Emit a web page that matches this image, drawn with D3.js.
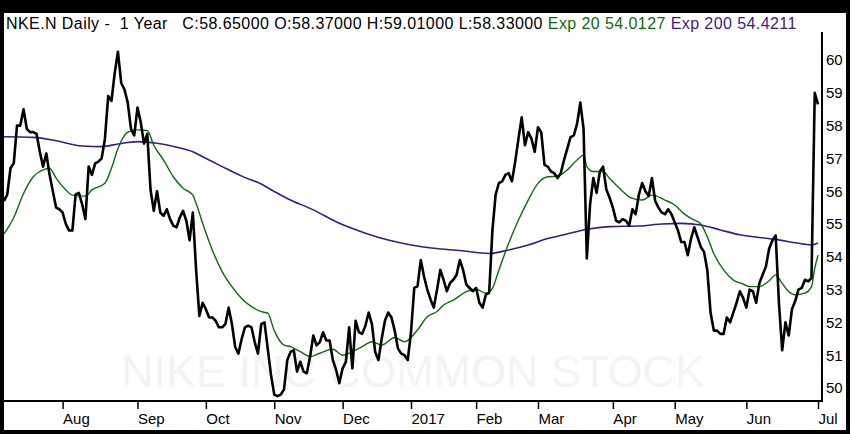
<!DOCTYPE html>
<html>
<head>
<meta charset="utf-8">
<script src="https://cdn.jsdelivr.net/npm/d3@7"></script>
<style>
  body { margin: 0; background: #000; }
  svg { display: block; }
  text { font-family: "Liberation Sans", Arial, sans-serif; white-space: pre; }
</style>
</head>
<body>
<div id="chart"></div>
<script>
// daily closes, index 0 = first trading day shown (early Jul 2016) ... 250 = Jul 3 2017
const closes = [
  55.7, 55.9, 56.7, 56.85, 58.0, 58.0, 58.5, 57.9, 57.8, 57.8,
  57.75, 57.2, 56.75, 57.15, 56.5, 56.0, 55.5, 55.45, 55.35, 55.0,
  54.8, 54.8, 55.9, 55.95, 55.6, 55.15, 56.75, 56.5, 56.85, 56.9,
  57.0, 57.6, 58.9, 58.75, 59.6, 60.25, 59.3, 59.1, 58.7, 57.9,
  57.7, 58.55, 58.1, 57.45, 57.75, 56.05, 55.4, 56.0, 55.35, 55.25,
  55.45, 55.15, 54.95, 54.9, 55.2, 55.4, 55.1, 54.5, 55.35, 53.6,
  52.2, 52.6, 52.4, 52.15, 52.15, 52.05, 51.85, 51.85, 51.95, 52.45,
  51.95, 51.25, 51.05, 51.5, 51.85, 51.9, 51.85, 51.4, 51.05, 51.95,
  52.0, 51.2, 50.4, 49.8, 49.75, 49.8, 49.95, 50.85, 51.1, 51.15,
  50.5, 50.8, 50.5, 50.45, 50.95, 51.6, 51.3, 51.4, 51.7, 51.45,
  51.45, 50.85, 50.55, 50.15, 50.6, 50.8, 51.85, 50.6, 52.05, 51.7,
  51.65, 51.9, 52.3, 51.95, 51.1, 50.85, 51.5, 52.05, 52.3, 52.15,
  51.75, 51.2, 51.05, 51.0, 50.85, 51.7, 53.05, 53.1, 53.9, 53.4,
  53.0, 52.7, 52.45, 53.0, 53.6, 53.3, 52.95, 53.2, 53.3, 53.45,
  53.9, 53.6, 53.15, 53.05, 52.95, 53.05, 52.6, 52.45, 52.85, 52.9,
  54.8, 55.9, 56.25, 56.3, 56.5, 56.55, 56.3, 56.9, 57.6, 58.25,
  57.4, 57.8, 57.6, 57.2, 57.95, 57.8, 56.8, 56.75, 56.6, 56.55,
  56.4, 56.55, 56.95, 57.3, 57.65, 57.7, 58.05, 58.7, 57.9, 53.95,
  55.6, 56.4, 55.95, 56.6, 56.75, 56.05, 55.8, 55.5, 55.1, 55.05,
  55.15, 55.1, 54.95, 55.45, 55.3, 55.9, 56.25, 56.0, 55.85, 56.4,
  55.7, 55.5, 55.35, 55.3, 55.45, 55.3, 55.05, 54.8, 54.45, 54.45,
  54.05, 54.55, 54.9, 54.6, 54.3, 54.15, 53.6, 52.3, 51.75, 51.75,
  51.65, 51.65, 52.15, 52.0, 52.3, 52.6, 52.95, 52.75, 52.45, 53.0,
  52.95, 52.6, 53.2, 53.45, 53.7, 54.25, 54.5, 54.65, 52.6, 51.15,
  52.0, 51.6, 52.4, 52.65, 53.0, 53.05, 53.3, 53.25, 53.35, 59.0,
  58.65
];

// exp 20 at these day indexes
const ema20Day = [0, 3, 6, 9, 12, 14, 16, 19, 21, 25, 27, 31, 33, 35, 38, 41, 44, 46, 49, 52,
  55, 58, 59, 61, 64, 67, 70, 73, 76, 79, 81, 83, 86, 88, 91, 94, 97, 101, 104, 107,
  110, 113, 116, 120, 123, 127, 130, 133, 135, 138, 142, 145, 148, 150, 152, 155, 158, 161, 164, 167,
  170, 173, 176, 178, 179, 181, 184, 186, 189, 193, 196, 199, 203, 206, 209, 211, 214, 216, 218, 221,
  224, 227, 229, 232, 235, 237, 239, 241, 243, 246, 248, 249, 250];
const ema20Val = [54.7, 55.2, 55.93, 56.44, 56.65, 56.7, 56.4, 56.04, 55.88, 55.85, 56.04, 56.24, 56.7, 57.3, 57.8, 57.87, 57.85, 57.4, 56.95, 56.44,
  56.09, 55.88, 55.63, 55.02, 54.2, 53.55, 53.09, 52.73, 52.48, 52.33, 52.28, 51.75, 51.31, 51.26, 51.11, 50.96, 51.06, 51.18, 51.0, 51.11,
  51.26, 51.41, 51.31, 51.54, 51.41, 51.77, 52.17, 52.33, 52.53, 52.68, 52.94, 53.01, 52.89, 53.04, 53.6, 54.41, 55.12, 55.73, 56.24, 56.44,
  56.46, 56.65, 56.95, 57.1, 56.75, 56.6, 56.6, 56.39, 56.09, 55.78, 55.73, 55.88, 55.73, 55.58, 55.3, 55.17, 55.0, 54.61, 54.1, 53.6,
  53.29, 53.17, 53.09, 53.09, 53.27, 53.45, 53.19, 52.94, 52.84, 52.89, 53.09, 53.65, 54.05];

// exp 200
const ema200Day = [0, 9, 15, 24, 30, 35, 41, 47, 53, 58, 61, 67, 73, 79, 83, 87, 95, 103, 111, 118,
  125, 132, 140, 149, 155, 161, 167, 172, 179, 186, 195, 202, 208, 214, 220, 226, 232, 237, 243, 248, 250];
const ema200Val = [57.66, 57.64, 57.56, 57.38, 57.36, 57.44, 57.51, 57.46, 57.34, 57.2, 57.05, 56.75, 56.46, 56.22, 55.99, 55.78, 55.43, 55.02, 54.72, 54.51,
  54.36, 54.26, 54.19, 54.1, 54.21, 54.36, 54.56, 54.67, 54.84, 54.92, 54.94, 55.0, 55.02, 54.97, 54.82, 54.67, 54.59, 54.53, 54.43, 54.36, 54.42];

// first trading day of each month
const monthDay = [18, 41, 62, 83, 104, 125, 145, 164, 187, 206, 228, 250];
const monthLabels = ["Aug", "Sep", "Oct", "Nov", "Dec", "2017", "Feb", "Mar", "Apr", "May", "Jun", "Jul"];

const priceTicks = [50, 51, 52, 53, 54, 55, 56, 57, 58, 59, 60];

const width = 850;
const height = 434;

const svg = d3.select("#chart")
  .append("svg")
  .attr("width", width)
  .attr("height", height);

// black frame, white panel
svg.append("rect").attr("width", width).attr("height", height).attr("fill", "#000");
svg.append("rect")
  .attr("x", 4).attr("y", 13)
  .attr("width", 842).attr("height", 417)
  .attr("fill", "#fff");

const x = d3.scaleLinear().domain([0, closes.length - 1]).range([4, 818]);
const y = d3.scaleLinear().domain([50, 60]).range([388, 60]);

// watermark
svg.append("text")
  .attr("x", 413)
  .attr("y", 387)
  .attr("text-anchor", "middle")
  .style("font-size", "45px")
  .style("fill", "#f3f3f3")
  .text("NIKE INC COMMON STOCK");

// header
const header = svg.append("text")
  .attr("x", 6)
  .attr("y", 29)
  .style("font-size", "16px")
  .style("letter-spacing", "0.42px");
header.append("tspan").attr("fill", "#000")
  .text("NKE.N Daily -  1 Year   C:58.65000 O:58.37000 H:59.01000 L:58.33000 ");
header.append("tspan").attr("fill", "#0b6b0b").text("Exp 20 54.0127 ");
header.append("tspan").attr("fill", "#3a1a8a").text("Exp 200 54.4211");

const line = d3.line()
  .x((d, i) => x(i))
  .y(d => y(d));

const smooth = d3.line()
  .x(d => x(d[0]))
  .y(d => y(d[1]))
  .curve(d3.curveMonotoneX);

svg.append("path")
  .datum(d3.zip(ema200Day, ema200Val))
  .attr("fill", "none")
  .attr("stroke", "#3a1a8a")
  .attr("stroke-width", 1.6)
  .attr("d", smooth);

svg.append("path")
  .datum(d3.zip(ema20Day, ema20Val))
  .attr("fill", "none")
  .attr("stroke", "#0b6b0b")
  .attr("stroke-width", 1.4)
  .attr("d", smooth);

svg.append("path")
  .datum(closes)
  .attr("fill", "none")
  .attr("stroke", "#000")
  .attr("stroke-width", 2.6)
  .attr("stroke-linejoin", "round")
  .attr("d", line);

// right price axis
const yAxis = svg.append("g")
  .attr("transform", "translate(822,0)")
  .call(d3.axisRight(y).tickValues(priceTicks).tickSize(0).tickPadding(4));
yAxis.select(".domain").remove();
yAxis.selectAll("text")
  .style("font-size", "15px")
  .style("font-family", "'Liberation Sans', Arial, sans-serif")
  .attr("fill", "#000");
svg.append("line")
  .attr("x1", 822).attr("x2", 822)
  .attr("y1", 32).attr("y2", 402)
  .attr("stroke", "#000").attr("stroke-width", 2);

// bottom month axis
const xAxis = svg.append("g")
  .attr("transform", "translate(0,401)")
  .call(d3.axisBottom(x).tickValues(monthDay).tickFormat((d, i) => monthLabels[i]).tickSize(8));
xAxis.select(".domain").remove();
xAxis.selectAll(".tick line").attr("stroke", "#000").attr("stroke-width", 1.5);
xAxis.selectAll("text")
  .attr("x", 0)
  .attr("y", 12)
  .attr("dy", "0.71em")
  .attr("text-anchor", "start")
  .style("font-size", "15px")
  .style("font-family", "'Liberation Sans', Arial, sans-serif")
  .attr("fill", "#000");
svg.append("line")
  .attr("x1", 4).attr("x2", 823)
  .attr("y1", 401).attr("y2", 401)
  .attr("stroke", "#000").attr("stroke-width", 2);
</script>
</body>
</html>
